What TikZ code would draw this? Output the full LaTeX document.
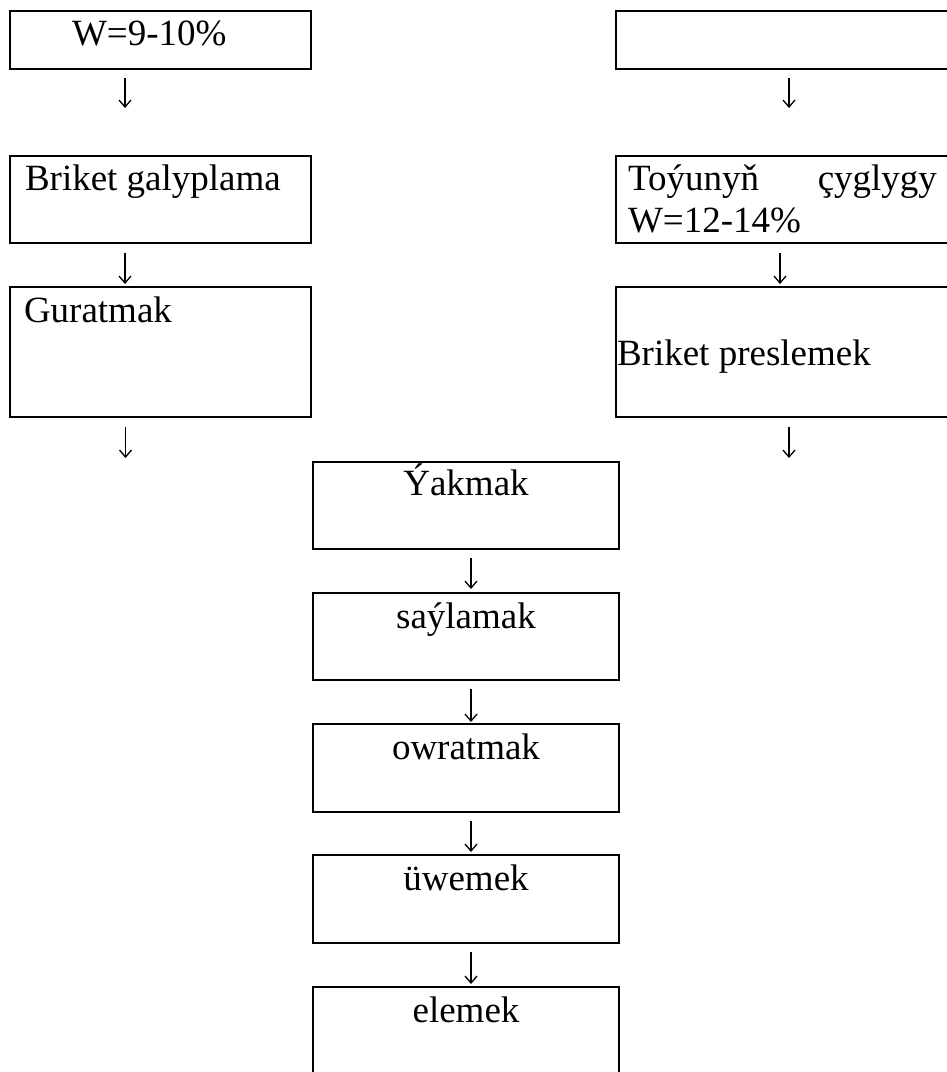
\documentclass[tikz,border=0pt]{standalone}
\usepackage{fontspec}
\setmainfont{Liberation Serif}
\usetikzlibrary{arrows.meta}
\begin{document}
\begin{tikzpicture}[x=1pt,y=-1pt,
  box/.style={draw,line width=2pt,rectangle,inner sep=0pt,outer sep=0pt},
  lbl/.style={inner sep=0pt,outer sep=0pt,font=\fontsize{37}{42}\selectfont},
  arr/.style={line width=1.3pt,-{Straight Barb[length=7pt,width=12pt]}}]
\useasboundingbox (0,0) rectangle (947,1072);
\clip (0,0) rectangle (947,1072);
% boxes
\node[box,minimum width=301pt,minimum height=58pt] (A) at (160.5,40) {};
\node[box,minimum width=344pt,minimum height=58pt] (B) at (788,40) {};
\node[box,minimum width=301pt,minimum height=87pt] (C) at (160.5,199.5) {};
\node[box,minimum width=344pt,minimum height=87pt] (D) at (788,199.5) {};
\node[box,minimum width=301pt,minimum height=130pt] (E) at (160.5,352) {};
\node[box,minimum width=344pt,minimum height=130pt] (F) at (788,352) {};
\node[box,minimum width=306pt,minimum height=87pt] (G) at (466,505.5) {};
\node[box,minimum width=306pt,minimum height=87pt] (H) at (466,636.5) {};
\node[box,minimum width=306pt,minimum height=88pt] (I) at (466,768) {};
\node[box,minimum width=306pt,minimum height=88pt] (J) at (466,899) {};
\node[box,minimum width=306pt,minimum height=103pt] (K) at (466,1038.5) {};
% texts
\node[lbl,anchor=base west] (tA) at (72,45) {W=9-10\%};
\node[lbl,anchor=base west] (tC) at (25,190) {Briket galyplama};
\node[lbl,anchor=base west,text width=309pt,align=left] (tD) at (628,190) {Toýunyň\hfill çyglygy\\W=12-14\%};
\node[lbl,anchor=base west] (tE) at (24,322) {Guratmak};
\node[lbl,anchor=base west] (tF) at (617,365) {Briket preslemek};
\node[lbl,anchor=base] (tG) at (466,495) {Ýakmak};
\node[lbl,anchor=base] (tH) at (466,628) {saýlamak};
\node[lbl,anchor=base] (tI) at (466,759) {owratmak};
\node[lbl,anchor=base] (tJ) at (466,890) {üwemek};
\node[lbl,anchor=base] (tK) at (466,1022) {elemek};
% free ends
\coordinate (eo) at (125.5,458);
\coordinate (fo) at (789,458);
% connectors
\draw[arr,shorten <=9pt,shorten >=48pt] ([xshift=-35.5pt]A.south) -- ([xshift=-35.5pt]C.north);
\draw[arr,shorten <=9pt,shorten >=48pt] ([xshift=1pt]B.south) -- ([xshift=1pt]D.north);
\draw[arr,shorten <=10pt,shorten >=3pt] ([xshift=-35.5pt]C.south) -- ([xshift=-35.5pt]E.north);
\draw[arr,shorten <=10pt,shorten >=3pt] ([xshift=-8pt]D.south) -- ([xshift=-8pt]F.north);
\draw[arr,shorten <=10pt] (E.south -| eo) -- (eo);
\draw[arr,shorten <=10pt] (F.south -| fo) -- (fo);
\draw[arr,shorten <=9pt,shorten >=4pt] ([xshift=5pt]G.south) -- ([xshift=5pt]H.north);
\draw[arr,shorten <=9pt,shorten >=2pt] ([xshift=5pt]H.south) -- ([xshift=5pt]I.north);
\draw[arr,shorten <=9pt,shorten >=3pt] ([xshift=5pt]I.south) -- ([xshift=5pt]J.north);
\draw[arr,shorten <=9pt,shorten >=3pt] ([xshift=5pt]J.south) -- ([xshift=5pt]K.north);
\end{tikzpicture}
\end{document}
